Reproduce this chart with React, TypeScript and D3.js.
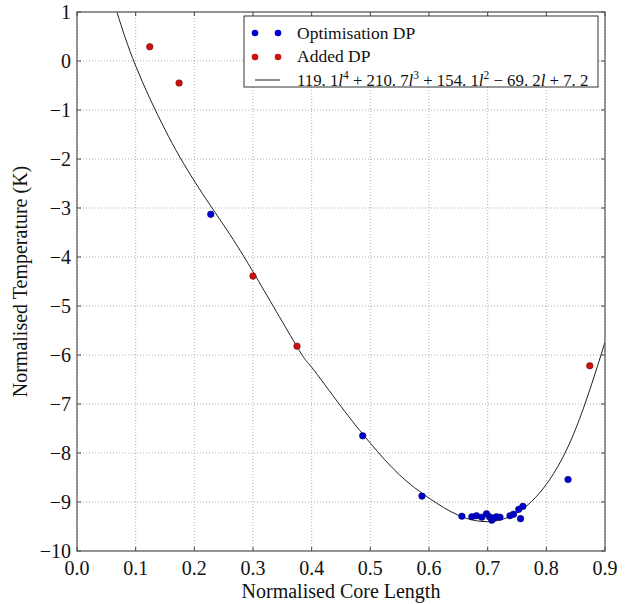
import React from "react";
import * as d3 from "d3";

const xTicks = [0, 0.1, 0.2, 0.3, 0.4, 0.5, 0.6, 0.7, 0.8, 0.9];
const yTicks = [1, 0, -1, -2, -3, -4, -5, -6, -7, -8, -9, -10];

const optX = [0.228, 0.487, 0.588, 0.656, 0.673, 0.681, 0.69, 0.698, 0.703, 0.707, 0.71, 0.715, 0.721, 0.738, 0.744, 0.753, 0.756, 0.76, 0.837];
const optY = [-3.13, -7.65, -8.88, -9.29, -9.3, -9.28, -9.31, -9.24, -9.3, -9.37, -9.33, -9.3, -9.31, -9.28, -9.25, -9.15, -9.34, -9.09, -8.54];

const addX = [0.124, 0.174, 0.3, 0.375, 0.874];
const addY = [0.29, -0.45, -4.39, -5.82, -6.22];

const fitX = [0.068, 0.1, 0.15, 0.2, 0.25, 0.3, 0.375, 0.4, 0.45, 0.5, 0.55, 0.6, 0.65, 0.7, 0.75, 0.8, 0.85, 0.9];
const fitY = [1.0, -0.1, -1.4, -2.45, -3.35, -4.3, -5.83, -6.25, -7.05, -7.8, -8.45, -8.92, -9.27, -9.4, -9.22, -8.64, -7.51, -5.74];

const W = 641, H = 604;
const L = 77, R = 605, T = 12, B = 551;
const FONT = "Liberation Serif, Times New Roman, DejaVu Serif, serif";

export default function App() {
  const x = d3.scaleLinear().domain([0, 0.9]).range([L, R]);
  const y = d3.scaleLinear().domain([-10, 1]).range([B, T]);
  const line = d3.line<number>().x((_, i) => x(fitX[i])).y((d) => y(d)).curve(d3.curveNatural);
  const fmt = (v: number) => (v < 0 ? "\u2212" + Math.abs(v) : String(v));
  const ts = { fontFamily: FONT };
  return (
    <svg width={W} height={H} style={{ position: "absolute", left: 0, top: 0, background: "#fff", fontFamily: FONT }}>
      <defs>
        <clipPath id="clip"><rect x={L} y={T} width={R - L} height={B - T} /></clipPath>
      </defs>
      {xTicks.map((t) => (
        <line key={"gx" + t} x1={x(t)} x2={x(t)} y1={T} y2={B} stroke="#999" strokeWidth={0.8} strokeDasharray="1,2" />
      ))}
      {yTicks.map((t) => (
        <line key={"gy" + t} x1={L} x2={R} y1={y(t)} y2={y(t)} stroke="#999" strokeWidth={0.8} strokeDasharray="1,2" />
      ))}
      <path d={line(fitY) || ""} fill="none" stroke="#222" strokeWidth={1} clipPath="url(#clip)" />
      {optX.map((v, i) => (
        <circle key={"o" + i} cx={x(v)} cy={y(optY[i])} r={3.3} fill="#0000cc" stroke="#000066" strokeWidth={0.5} />
      ))}
      {addX.map((v, i) => (
        <circle key={"a" + i} cx={x(v)} cy={y(addY[i])} r={3.3} fill="#cc1111" stroke="#660000" strokeWidth={0.5} />
      ))}
      {xTicks.map((t) => (
        <g key={"tx" + t}>
          <line x1={x(t)} x2={x(t)} y1={B} y2={B - 4} stroke="#444" />
          <line x1={x(t)} x2={x(t)} y1={T} y2={T + 4} stroke="#444" />
          <text x={x(t)} y={575} textAnchor="middle" fontSize={20} fill="#111" style={ts}>{t.toFixed(1)}</text>
        </g>
      ))}
      {yTicks.map((t) => (
        <g key={"ty" + t}>
          <line x1={L} x2={L + 4} y1={y(t)} y2={y(t)} stroke="#444" />
          <line x1={R} x2={R - 4} y1={y(t)} y2={y(t)} stroke="#444" />
          <text x={71} y={y(t) + 7} textAnchor="end" fontSize={20} fill="#111" style={ts}>{fmt(t)}</text>
        </g>
      ))}
      <rect x={L} y={T} width={R - L} height={B - T} fill="none" stroke="#555" strokeWidth={1.2} />
      <text x={341} y={598} textAnchor="middle" fontSize={20} fill="#111" style={ts}>Normalised Core Length</text>
      <text transform={`translate(27,${(T + B) / 2}) rotate(-90)`} textAnchor="middle" fontSize={20} fill="#111" style={ts}>Normalised Temperature (K)</text>
      <g>
        <rect x={244} y={16} width={354} height={71} fill="#fff" stroke="#333" strokeWidth={1} />
        <circle cx={255} cy={33} r={3.3} fill="#0000cc" />
        <circle cx={278} cy={33} r={3.3} fill="#0000cc" />
        <text x={297} y={39} fontSize={17.5} fill="#111" style={ts}>Optimisation DP</text>
        <circle cx={255} cy={57} r={3.3} fill="#cc1111" />
        <circle cx={278} cy={57} r={3.3} fill="#cc1111" />
        <text x={297} y={62} fontSize={17.5} fill="#111" style={ts}>Added DP</text>
        <line x1={255} x2={280} y1={80} y2={80} stroke="#222" strokeWidth={1} />
        <text x={297} y={86} fontSize={16.8} fill="#111" style={ts}>
          119. 1<tspan fontStyle="italic">l</tspan><tspan dy={-7} fontSize={11.5}>4</tspan><tspan dy={7}> + 210. 7</tspan><tspan fontStyle="italic">l</tspan><tspan dy={-7} fontSize={11.5}>3</tspan><tspan dy={7}> + 154. 1</tspan><tspan fontStyle="italic">l</tspan><tspan dy={-7} fontSize={11.5}>2</tspan><tspan dy={7}> {"\u2212"} 69. 2</tspan><tspan fontStyle="italic">l</tspan><tspan> + 7. 2</tspan>
        </text>
      </g>
    </svg>
  );
}
